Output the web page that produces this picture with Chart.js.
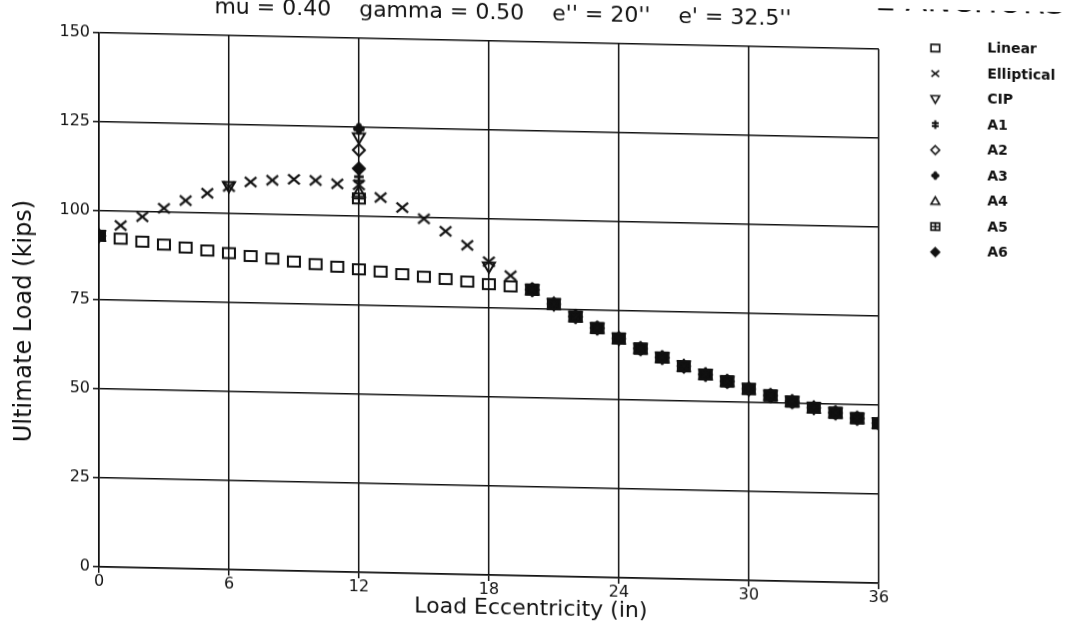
<!DOCTYPE html>
<html>
<head>
<meta charset="utf-8">
<script src="https://cdn.jsdelivr.net/npm/chart.js@4.4.1/dist/chart.umd.min.js"></script>
<style>
  html, body { margin: 0; padding: 0; background: #fff; overflow: hidden; }
  /* the scanned original is slightly sheared, right side lower */
  #wrap { width: 1069px; height: 623px; transform: skewY(1.2deg); transform-origin: 489px 307px; }
</style>
</head>
<body>
<div id="wrap"><canvas id="chart" width="1069" height="623"></canvas></div>
<script>
// load eccentricity (in), one reading per inch
const eccentricity = [0, 1, 2, 3, 4, 5, 6, 7, 8, 9, 10, 11, 12, 13, 14, 15, 16, 17, 18,
  19, 20, 21, 22, 23, 24, 25, 26, 27, 28, 29, 30, 31, 32, 33, 34, 35, 36];

// ultimate load (kips); null = no marker at that eccentricity
const linearLoad = [93.0, 92.3, 91.6, 90.9, 90.2, 89.5, 88.9, 88.2, 87.6, 86.9, 86.3, 85.7,
  85.1, 84.6, 84.0, 83.4, 82.9, 82.3, 81.7, 81.2, 80.4, 76.5, 73.1, 70.0, 67.2, 64.5, 62.1,
  59.8, 57.6, 55.8, 53.8, 52.1, 50.5, 48.9, 47.6, 46.2, 44.9];
const ellipticalLoad = [93.0, 96.0, 98.6, 101.1, 103.4, 105.6, 107.6, 109.0, 109.6, 110.0,
  109.8, 109.0, 108.8, 105.4, 102.7, 99.7, 96.3, 92.5, 88.0, 84.2, 80.4, 76.5, 73.1, 70.0,
  67.2, 64.5, 62.1, 59.8, 57.6, 55.8, 53.8, 52.1, 50.5, 48.9, 47.6, 46.2, 44.9];
const cipLoad = [93.0, null, null, null, null, null, 107.6, null, null, null, null, null,
  122.0, null, null, null, null, null, 86.5, null, 80.4, 76.5, 73.1, 70.0, 67.2, 64.5, 62.1,
  59.8, 57.6, 55.8, 53.8, 52.1, 50.5, 48.9, 47.6, 46.2, 44.9];
const a1Load = [93.0, null, null, null, null, null, null, null, null, null, null, null,
  110.5, null, null, null, null, null, null, null, 80.4, 76.5, 73.1, 70.0, 67.2, 64.5, 62.1,
  59.8, 57.6, 55.8, 53.8, 52.1, 50.5, 48.9, 47.6, 46.2, 44.9];
const a2Load = [93.0, null, null, null, null, null, null, null, null, null, null, null,
  118.6, null, null, null, null, null, null, null, 80.4, 76.5, 73.1, 70.0, 67.2, 64.5, 62.1,
  59.8, 57.6, 55.8, 53.8, 52.1, 50.5, 48.9, 47.6, 46.2, 44.9];
const a3Load = [93.0, null, null, null, null, null, null, null, null, null, null, null,
  124.6, null, null, null, null, null, null, null, 80.4, 76.5, 73.1, 70.0, 67.2, 64.5, 62.1,
  59.8, 57.6, 55.8, 53.8, 52.1, 50.5, 48.9, 47.6, 46.2, 44.9];
const a4Load = [93.0, null, null, null, null, null, null, null, null, null, null, null,
  106.8, null, null, null, null, null, null, null, 80.4, 76.5, 73.1, 70.0, 67.2, 64.5, 62.1,
  59.8, 57.6, 55.8, 53.8, 52.1, 50.5, 48.9, 47.6, 46.2, 44.9];
const a5Load = [93.0, null, null, null, null, null, null, null, null, null, null, null,
  105.0, null, null, null, null, null, null, null, 80.4, 76.5, 73.1, 70.0, 67.2, 64.5, 62.1,
  59.8, 57.6, 55.8, 53.8, 52.1, 50.5, 48.9, 47.6, 46.2, 44.9];
const a6Load = [93.0, null, null, null, null, null, null, null, null, null, null, null,
  113.4, null, null, null, null, null, null, null, 80.4, 76.5, 73.1, 70.0, 67.2, 64.5, 62.1,
  59.8, 57.6, 55.8, 53.8, 52.1, 50.5, 48.9, 47.6, 46.2, 44.9];

const seriesNames = ["Linear", "Elliptical", "CIP", "A1", "A2", "A3", "A4", "A5", "A6"];
const seriesLoads = [linearLoad, ellipticalLoad, cipLoad, a1Load, a2Load, a3Load, a4Load, a5Load, a6Load];
const markerKinds = ["square", "cross", "triDown", "dagger", "diamond", "clover", "triUp", "boxPlus", "diamondFill"];

const ink = "#111";
const FONT = "'DejaVu Sans', sans-serif";
const nb = n => "\u00a0".repeat(n); // used to nudge centred titles sideways

// small canvases used as point styles (plotter-like glyphs)
function makeMarker(kind, r) {
  const size = Math.ceil(2 * r + 6);
  const cv = document.createElement("canvas");
  cv.width = size;
  cv.height = size;
  const g = cv.getContext("2d");
  const m = size / 2;
  g.strokeStyle = ink;
  g.fillStyle = ink;
  g.lineWidth = Math.max(1.6, r * 0.34);
  g.beginPath();
  if (kind === "square") {
    g.rect(m - r, m - 0.85 * r, 2 * r, 1.7 * r);
    g.stroke();
  } else if (kind === "cross") {
    g.moveTo(m - 0.9 * r, m - 0.75 * r); g.lineTo(m + 0.9 * r, m + 0.75 * r);
    g.moveTo(m + 0.9 * r, m - 0.75 * r); g.lineTo(m - 0.9 * r, m + 0.75 * r);
    g.stroke();
  } else if (kind === "triDown" || kind === "triUp") {
    const s = kind === "triDown" ? 1 : -1;
    g.moveTo(m - r, m - s * 0.75 * r);
    g.lineTo(m + r, m - s * 0.75 * r);
    g.lineTo(m, m + s * 0.95 * r);
    g.closePath();
    g.stroke();
  } else if (kind === "dagger") {
    g.moveTo(m, m - r); g.lineTo(m, m + r);
    g.moveTo(m - 0.8 * r, m - 0.35 * r); g.lineTo(m + 0.8 * r, m - 0.35 * r);
    g.moveTo(m - 0.8 * r, m + 0.35 * r); g.lineTo(m + 0.8 * r, m + 0.35 * r);
    g.lineWidth *= 1.3;
    g.stroke();
  } else if (kind === "diamond" || kind === "diamondFill") {
    g.moveTo(m, m - r); g.lineTo(m + r, m); g.lineTo(m, m + r); g.lineTo(m - r, m);
    g.closePath();
    if (kind === "diamondFill") g.fill();
    g.stroke();
  } else if (kind === "clover") {
    g.lineWidth = r * 0.95;
    g.lineCap = "round";
    g.moveTo(m - 0.5 * r, m); g.lineTo(m + 0.5 * r, m);
    g.moveTo(m, m - 0.5 * r); g.lineTo(m, m + 0.5 * r);
    g.stroke();
  } else if (kind === "boxPlus") {
    g.rect(m - r, m - 0.85 * r, 2 * r, 1.7 * r);
    g.moveTo(m, m - 0.85 * r); g.lineTo(m, m + 0.85 * r);
    g.moveTo(m - r, m); g.lineTo(m + r, m);
    g.stroke();
  }
  return cv;
}

const plotMarkers = markerKinds.map(k => makeMarker(k, k === "cross" ? 6.4 : 6));
const legendMarkers = markerKinds.map(k => makeMarker(k, 4.3));

const datasets = seriesNames.map((name, i) => ({
  label: name,
  data: eccentricity
    .map((e, j) => ({ x: e, y: seriesLoads[i][j] }))
    .filter(p => p.y !== null),
  pointStyle: plotMarkers[i],
  pointRadius: 6,
  showLine: false,
}));

const axisGrid = { color: ink, lineWidth: 1.5, tickLength: 6, tickColor: ink };

new Chart(document.getElementById("chart"), {
  type: "scatter",
  data: { datasets: datasets },
  options: {
    responsive: false,
    animation: false,
    devicePixelRatio: 1,
    layout: { padding: { left: 0, right: 3.5, top: 0, bottom: 0 } },
    plugins: {
      title: {
        display: true,
        text: "E ANCHORS",
        align: "end",
        color: ink,
        font: { family: FONT, size: 32, weight: "normal", lineHeight: 1 },
        padding: { top: -22, bottom: -2 },
      },
      subtitle: {
        display: true,
        fullSize: false,
        text: nb(4) + "mu = 0.40    gamma = 0.50    e'' = 20''    e' = 32.5''",
        color: ink,
        font: { family: FONT, size: 22, lineHeight: 1.2 },
        padding: { top: -8, bottom: 14.6 },
      },
      legend: {
        position: "right",
        align: "start",
        title: { display: true, text: " ", font: { size: 1, lineHeight: 1.2 }, padding: { top: 19, bottom: 0 } },
        labels: {
          usePointStyle: true,
          pointStyleWidth: 90,
          padding: 11.5,
          color: ink,
          font: { family: FONT, size: 14, weight: "bold" },
          generateLabels: chart => chart.data.datasets.map((ds, i) => ({
            text: ds.label,
            pointStyle: legendMarkers[i],
            fillStyle: ink,
            strokeStyle: ink,
            fontColor: ink,
            lineWidth: 0,
            hidden: false,
            datasetIndex: i,
          })),
        },
      },
      tooltip: { enabled: false },
    },
    scales: {
      x: {
        type: "linear",
        min: 0,
        max: 36,
        ticks: { stepSize: 6, color: ink, padding: -1, font: { family: FONT, size: 16 } },
        grid: axisGrid,
        border: { color: ink, width: 1.5 },
        title: {
          display: true,
          text: nb(12) + "Load Eccentricity (in)",
          color: ink,
          font: { family: FONT, size: 22 },
          padding: { top: 0, bottom: 2 },
        },
        afterFit: scale => { scale.height = 48; },
      },
      y: {
        min: 0,
        max: 150,
        ticks: { stepSize: 25, color: ink, padding: 3, font: { family: FONT, size: 16 } },
        grid: axisGrid,
        border: { color: ink, width: 1.5 },
        title: {
          display: true,
          text: "Ultimate Load (kips)" + nb(6),
          color: ink,
          font: { family: FONT, size: 24 },
          padding: { top: 10.5, bottom: 0 },
        },
        afterFit: scale => { scale.width = 99; },
      },
    },
  },
});
</script>
</body>
</html>
